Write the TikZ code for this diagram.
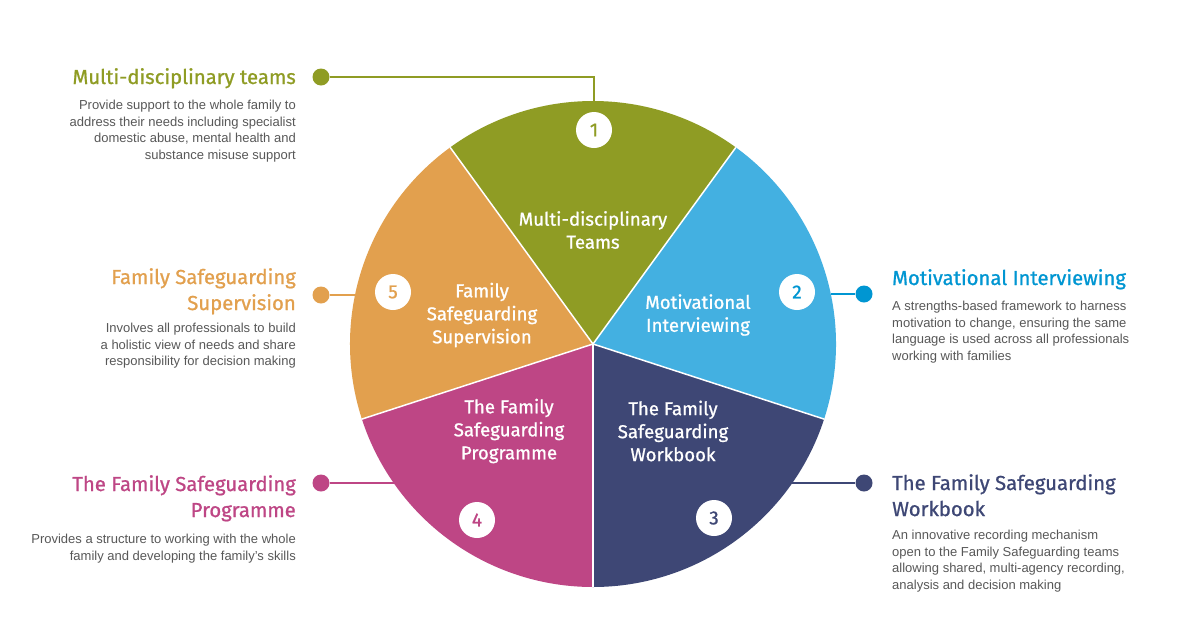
\documentclass[tikz,border=0pt]{standalone}
\usepackage{fontspec}
\setmainfont{Liberation Sans}
\newfontfamily\headfont[FakeBold=0.9]{Fira Sans}
\usetikzlibrary{calc}
\definecolor{olivec}{RGB}{143,156,36}
\definecolor{bluec}{RGB}{67,176,225}
\definecolor{bluet}{RGB}{0,150,210}
\definecolor{navyc}{RGB}{62,71,117}
\definecolor{magc}{RGB}{190,70,133}
\definecolor{orc}{RGB}{226,160,78}
\definecolor{bodyc}{RGB}{88,88,88}
\begin{document}
\begin{tikzpicture}[x=1pt,y=-1pt,
  slicelbl/.style={text=white,align=center,inner sep=0pt,font={\headfont\fontsize{18.6}{23}\selectfont}},
  numc/.style={circle,fill=white,minimum size=36pt,inner sep=0pt,font={\headfont\fontsize{19}{20}\selectfont}},
  dotn/.style={circle,minimum size=17pt,inner sep=0pt},
  conn/.style={line width=1.3pt},
  headr/.style={align=right,inner sep=0pt,font={\headfont\fontsize{20.3}{26}\selectfont}},
  headl/.style={align=left,inner sep=0pt,font={\headfont\fontsize{20.3}{26}\selectfont}},
  bodyr/.style={align=right,inner sep=0pt,text=bodyc,font={\fontsize{13}{16.5}\selectfont}},
  bodyl/.style={align=left,inner sep=0pt,text=bodyc,font={\fontsize{13}{16.5}\selectfont}},
  sep/.style={white,line width=1.5pt}
]
\useasboundingbox (0,0) rectangle (1200,622);
\fill[white] (0,0) rectangle (1200,622);
\coordinate (C) at (593,344);
\def\R{243}
% slices
\fill[olivec] (C) -- ++(-54:\R) arc[start angle=-54,end angle=-126,radius=\R] -- cycle;
\fill[orc] (C) -- ++(-126:\R) arc[start angle=-126,end angle=-198,radius=\R] -- cycle;
\fill[magc] (C) -- ++(-198:\R) arc[start angle=-198,end angle=-270,radius=\R] -- cycle;
\fill[navyc] (C) -- ++(-270:\R) arc[start angle=-270,end angle=-342,radius=\R] -- cycle;
\fill[bluec] (C) -- ++(18:\R) arc[start angle=18,end angle=-54,radius=\R] -- cycle;
\foreach \a in {-54,-126,-198,-270,-342}
  \draw[sep] (C) -- ++(\a:\R);
% slice labels
\node[slicelbl] (l1) at (593,230) {Multi-disciplinary\\Teams};
\node[slicelbl] (l2) at (698,315) {Motivational\\Interviewing};
\node[slicelbl] (l3) at (673,431) {The Family\\Safeguarding\\Workbook};
\node[slicelbl] (l4) at (509,431) {The Family\\Safeguarding\\Programme};
\node[slicelbl] (l5) at (482,315) {Family\\Safeguarding\\Supervision};
% number circles
\node[numc,text=olivec] (n1) at (594,130) {1};
\node[numc,text=bluet] (n2) at (797,292) {2};
\node[numc,text=navyc] (n3) at (714,518) {3};
\node[numc,text=magc] (n4) at (477,520) {4};
\node[numc,text=orc] (n5) at (393,292) {5};
% connectors
\node[dotn,fill=olivec] (d1) at (321,77) {};
\coordinate (p1) at (594,102);
\draw[conn,olivec] (d1) -| (p1);
\node[dotn,fill=bluet] (d2) at (864,294) {};
\coordinate (p2) at (831,294);
\draw[conn,bluet] (p2) -- (d2);
\node[dotn,fill=orc] (d5) at (321,295) {};
\coordinate (p5) at (355,295);
\draw[conn,orc] (d5) -- (p5);
\node[dotn,fill=magc] (d4) at (321,483) {};
\coordinate (p4) at (394,483);
\draw[conn,magc] (d4) -- (p4);
\node[dotn,fill=navyc] (d3) at (864,483) {};
\coordinate (p3) at (792,483);
\draw[conn,navyc] (p3) -- (d3);
% texts
\node[headr,text=olivec,anchor=base east] (h1) at (296,84) {Multi-disciplinary teams};
\node[bodyr,anchor=north east] (b1) at (296,100) {Provide support to the whole family to\\address their needs including specialist\\domestic abuse, mental health and\\substance misuse support};
\node[headl,text=bluet,anchor=base west] (h2) at (892,285) {Motivational Interviewing};
\node[bodyl,anchor=north west] (b2) at (892,301) {A strengths-based framework to harness\\motivation to change, ensuring the same\\language is used across all professionals\\working with families};
\node[headr,text=orc,anchor=north east] (h5) at (296,268) {Family Safeguarding\\Supervision};
\node[bodyr,anchor=north east] (b5) at (296,323) {Involves all professionals to build\\a holistic view of needs and share\\responsibility for decision making};
\node[headr,text=magc,anchor=north east] (h4) at (296,475) {The Family Safeguarding\\Programme};
\node[bodyr,anchor=north east] (b4) at (296,534) {Provides a structure to working with the whole\\family and developing the family's skills};
\node[headl,text=navyc,anchor=north west] (h3) at (892,474) {The Family Safeguarding\\Workbook};
\node[bodyl,anchor=north west] (b3) at (892,530) {An innovative recording mechanism\\open to the Family Safeguarding teams\\allowing shared, multi-agency recording,\\analysis and decision making};
\end{tikzpicture}
\end{document}
